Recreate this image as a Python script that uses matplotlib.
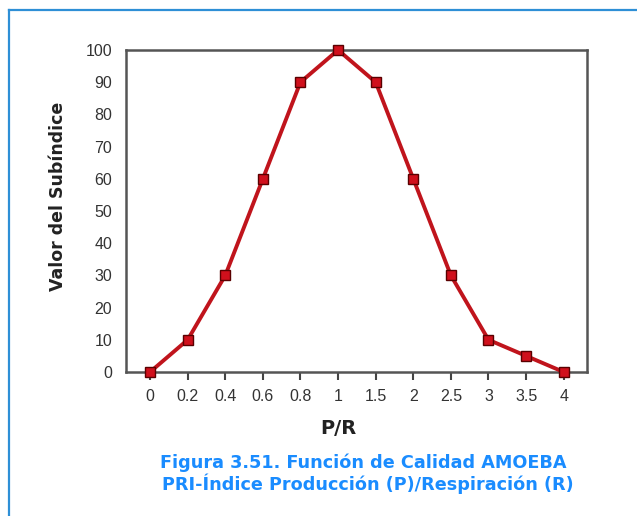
import numpy as np
import matplotlib.pyplot as plt
from matplotlib.lines import Line2D

# datos de la funcion de calidad
categorias = ['0', '0.2', '0.4', '0.6', '0.8', '1', '1.5', '2', '2.5', '3', '3.5', '4']
valores = [0, 10, 30, 60, 90, 100, 90, 60, 30, 10, 5, 0]
yticks = [0, 10, 20, 30, 40, 50, 60, 70, 80, 90, 100]

W, H = 637, 516
fig = plt.figure(figsize=(W / 100, H / 100), dpi=100)
fig.patch.set_facecolor('white')

# marco azul de la captura
fig.add_artist(Line2D([9 / W, 9 / W], [0, 1 - 10 / H], transform=fig.transFigure,
                      color='#2e8fd6', lw=1.6))
fig.add_artist(Line2D([9 / W, 1], [1 - 10 / H, 1 - 10 / H], transform=fig.transFigure,
                      color='#2e8fd6', lw=1.6))

ax = fig.add_axes([126 / W, 1 - 372 / H, (587 - 126) / W, (372 - 50) / H])
x = np.arange(len(categorias))
ax.plot(x, valores, color='#c0141c', lw=2.8, marker='s', markersize=7,
        markerfacecolor='#d0101c', markeredgecolor='#5a0000', markeredgewidth=1.0,
        zorder=3, clip_on=False)

ax.set_xlim(-0.64, len(categorias) - 1 + 0.62)
ax.set_ylim(0, 100)
ax.set_xticks(x)
ax.set_xticklabels(categorias)
ax.set_yticks(yticks)

fuente = ['Liberation Sans Narrow', 'Liberation Sans', 'DejaVu Sans']
for lab in ax.get_xticklabels() + ax.get_yticklabels():
    lab.set_family(fuente)
    lab.set_fontsize(11.5)
    lab.set_color('#333333')

ax.tick_params(axis='x', direction='out', length=6, width=1.5, color='#444444', pad=6)
ax.tick_params(axis='y', length=0, pad=10)
for s in ax.spines.values():
    s.set_color('#555555')
    s.set_linewidth(1.8)

fig.text(338 / W, 1 - 429 / H, 'P/R', ha='center', va='center',
         fontsize=14, fontweight='bold', color='#222222', family='DejaVu Sans')
fig.text(58 / W, 1 - 196 / H, 'Valor del Subíndice', ha='center', va='center',
         rotation=90, fontsize=12.5, fontweight='bold', color='#222222', family='DejaVu Sans')

fig.text(363 / W, 1 - 463 / H, 'Figura 3.51. Función de Calidad AMOEBA', ha='center',
         va='center', fontsize=12.7, fontweight='bold', color='#1a8cff', family='DejaVu Sans')
fig.text(368 / W, 1 - 484 / H, 'PRI-Índice Producción (P)/Respiración (R)', ha='center',
         va='center', fontsize=12.7, fontweight='bold', color='#1a8cff', family='DejaVu Sans')

fig.savefig('out.png', dpi=100)
